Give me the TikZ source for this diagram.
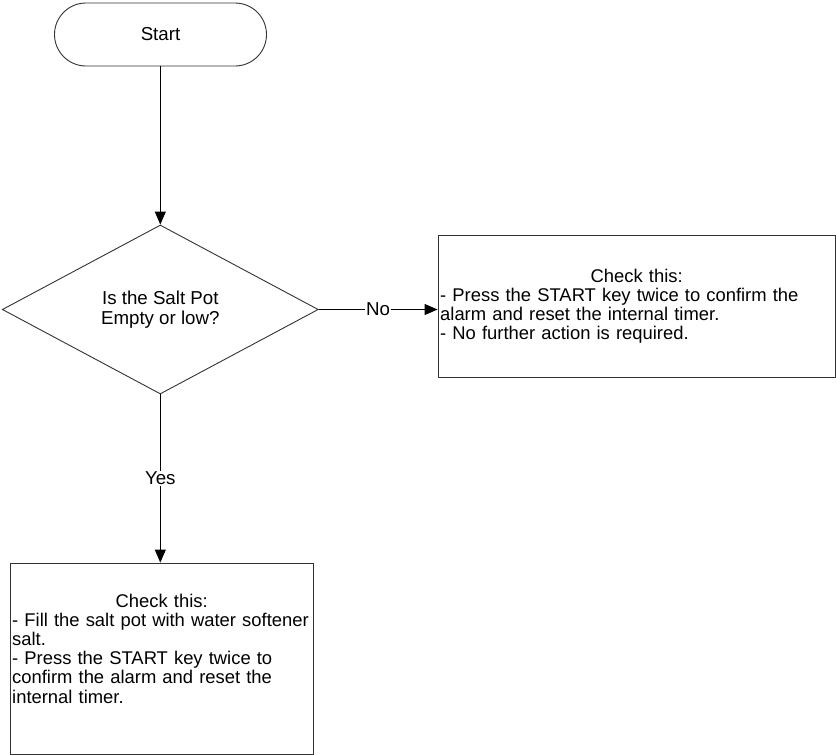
\documentclass[tikz,border=0pt]{standalone}
\usepackage{fontspec}
\setmainfont{Liberation Sans}
\usetikzlibrary{shapes.geometric,arrows.meta}
\begin{document}
\begin{tikzpicture}[x=1pt,y=-1pt,
  font=\fontsize{18.7pt}{20.5pt}\selectfont,
  shapeline/.style={draw=black!80, line width=0.9pt},
  terminal/.style={shapeline, rectangle, rounded corners=31.5pt,
    minimum width=212pt, minimum height=63pt, inner sep=0pt},
  decision/.style={shapeline, diamond, aspect=1.87, minimum width=316pt,
    minimum height=169pt, inner sep=0pt, align=center},
  panel/.style={shapeline, rectangle, inner sep=0pt},
  paneltext/.style={align=left, inner sep=0pt, anchor=north west,
    font=\fontsize{18.4pt}{19.2pt}\selectfont},
  flow/.style={draw=black, line width=0.9pt, -{Triangle[length=13pt,width=11pt]}},
  tag/.style={fill=white, inner sep=1pt}]
  \useasboundingbox (0,0) rectangle (836,755);
  \fill[white] (0,0) rectangle (836,755);

  % start terminal and the decision
  \node[terminal] (start) at (160.5,34.5) {Start};
  \node[decision] (salt) at (160.3,309.5) {Is the Salt Pot\\Empty or low?};

  % answer panels
  \node[panel, minimum width=397pt, minimum height=142pt] (nobox) at (636.5,306) {};
  \node[paneltext, text width=393pt] (notext) at (440,268.5)
    {\makebox[\hsize][c]{Check this:}\\
     \mbox{- Press the START key twice to confirm the}\\
     \mbox{alarm and reset the internal timer.}\\
     \mbox{- No further action is required.}};

  \node[panel, minimum width=303pt, minimum height=191pt] (yesbox) at (161.5,658.5) {};
  \node[paneltext, text width=299pt] (yestext) at (12,593.5)
    {\makebox[\hsize][c]{Check this:}\\
     \mbox{- Fill the salt pot with water softener}\\
     \mbox{salt.}\\
     \mbox{- Press the START key twice to}\\
     \mbox{confirm the alarm and reset the}\\
     \mbox{internal timer.}};

  % connectors
  \draw[flow] (start.south -| salt.north) -- (salt.north);
  \draw[flow] (salt.east) -- node[tag] (nolabel) {No} (salt.east -| nobox.west);
  \draw[flow] (salt.south) -- node[tag] (yeslabel) {Yes} (salt.south |- yesbox.north);
\end{tikzpicture}
\end{document}
